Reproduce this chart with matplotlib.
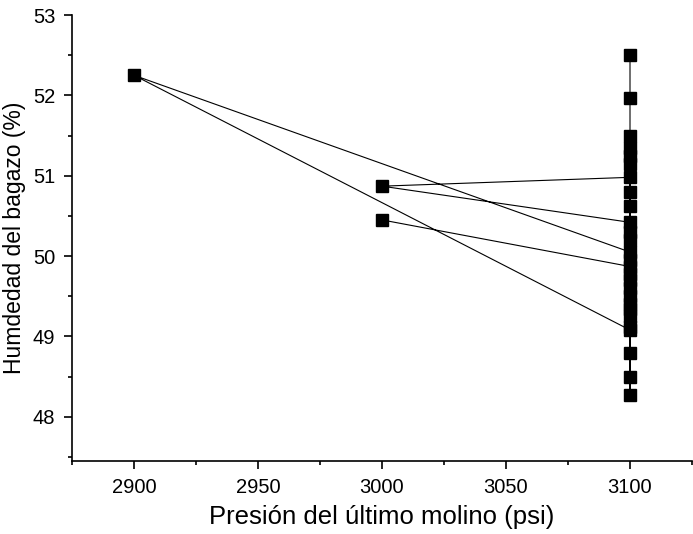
import matplotlib.pyplot as plt
from matplotlib.ticker import MultipleLocator

plt.rcParams['font.family'] = ['Liberation Sans', 'DejaVu Sans']

# data in the order it is joined by the line
presion = [3000, 3100, 3100, 3100, 3100, 3100, 3100, 3100, 3100, 3100, 3100, 3100,
           3100, 3100, 3100, 2900, 3100, 3100, 3100, 3100, 3100, 3100, 3000, 3100,
           3100, 3100, 3100, 3100, 3100, 3100]
humedad = [50.45, 49.87, 49.95, 49.78, 49.7, 49.6, 49.5, 49.4, 49.25, 48.8, 48.5, 48.27,
           49.12, 49.34, 49.08, 52.25, 50.05, 50.2, 50.3, 50.62, 50.8, 50.98, 50.87, 50.42,
           51.14, 51.25, 51.35, 51.5, 51.97, 52.5]

fig = plt.figure(figsize=(6.93, 5.34), dpi=100)
ax = fig.add_axes([72/693, 73/534, 620/693, 446/534])

ax.plot(presion, humedad, color='black', linewidth=0.8,
        marker='s', markersize=8.5, markerfacecolor='black', markeredgecolor='black')

ax.set_xlim(2875, 3125)
ax.set_ylim(47.45, 53)
ax.xaxis.set_major_locator(MultipleLocator(50))
ax.xaxis.set_minor_locator(MultipleLocator(25))
ax.yaxis.set_major_locator(MultipleLocator(1))
ax.yaxis.set_minor_locator(MultipleLocator(0.5))

ax.spines['top'].set_visible(False)
ax.spines['right'].set_visible(False)
ax.spines['left'].set_linewidth(1.2)
ax.spines['bottom'].set_linewidth(1.2)
ax.tick_params(which='major', direction='out', length=6, width=1.2, labelsize=14.5, pad=6)
ax.tick_params(which='minor', direction='out', length=3, width=1.2)

ax.set_xlabel('Presión del último molino (psi)', fontsize=18.5, labelpad=6)
ax.set_ylabel('Humdedad del bagazo (%)', fontsize=16.5, labelpad=5)

fig.savefig('out.png', dpi=100)
